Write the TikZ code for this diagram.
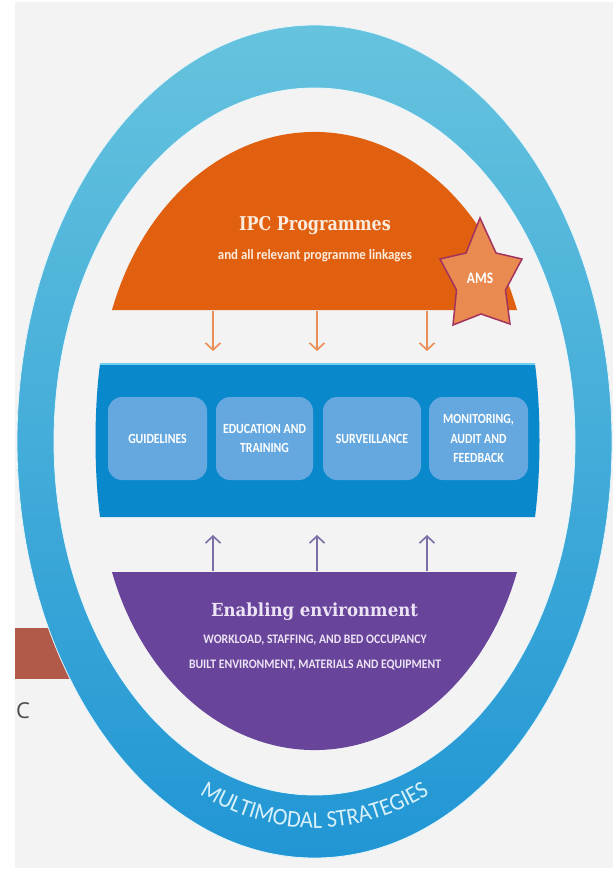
\documentclass[tikz,border=0pt]{standalone}
\usepackage{fontspec}
\usetikzlibrary{arrows.meta,decorations.text}

\newfontfamily\slabfont[FakeStretch=0.92]{DejaVu Serif}
\newfontfamily\slabnarrow[FakeStretch=0.84]{DejaVu Serif}
\newfontfamily\cndfont[FakeStretch=0.84]{Carlito}
\newfontfamily\subfont[FakeStretch=0.9]{Carlito}
\newfontfamily\ringfont[FakeStretch=0.93]{Carlito}
\newfontfamily\sidefont{Open Sans}

\definecolor{bgGrey}{HTML}{F3F3F3}
\definecolor{ringTop}{HTML}{66C3DE}
\definecolor{ringBot}{HTML}{2196D4}
\definecolor{ringEdge}{HTML}{E6F5FB}
\definecolor{domeOrange}{HTML}{E0600F}
\definecolor{starFill}{HTML}{E98A50}
\definecolor{starEdge}{HTML}{A2325E}
\definecolor{bandBlue}{HTML}{0A88CC}
\definecolor{bandEdge}{HTML}{6FD0F0}
\definecolor{boxBlue}{HTML}{64A8DF}
\definecolor{bowlPurple}{HTML}{68459B}
\definecolor{arrowOrange}{HTML}{EA8D58}
\definecolor{arrowPurple}{HTML}{7D6FA6}
\definecolor{barRed}{HTML}{B25A49}
\definecolor{capText}{HTML}{FBEBDD}
\definecolor{envText}{HTML}{ECE3F5}
\definecolor{ringText}{HTML}{D8F1FA}
\definecolor{sideText}{HTML}{4D4D4D}

\begin{document}
\begin{tikzpicture}[x=1pt,y=-1pt,
  boxstyle/.style={fill=boxBlue, rounded corners=14pt, minimum width=99pt,
    minimum height=83pt, inner sep=0pt, align=center, text=white,
    font=\cndfont\bfseries\fontsize{14}{19.5}\selectfont},
  downarrow/.style={draw=arrowOrange, line width=1.6pt,
    -{Straight Barb[length=7pt,width=15pt]}},
  uparrow/.style={draw=arrowPurple, line width=1.6pt,
    -{Straight Barb[length=7pt,width=15pt]}},
  substyle/.style={inner sep=0pt, font=\subfont\bfseries\fontsize{14.3}{16}\selectfont},
  envline/.style={inner sep=0pt, text=envText, font=\subfont\bfseries\fontsize{13}{15}\selectfont}]

\useasboundingbox (0,0) rectangle (613,870);
\fill[white] (0,0) rectangle (613,870);
\fill[bgGrey] (15,2) rectangle (613,868);

% bar and letter on the left margin, partly behind the ring
\fill[barRed] (15,628) rectangle (95,679);
\node[anchor=west, inner sep=0pt, text=sideText, font=\sidefont\fontsize{22}{24}\selectfont] (sideC) at (16,711) {C};

% outer ring
\shade[top color=ringTop, bottom color=ringBot] (314.5,441.5) ellipse[x radius=297.5, y radius=416.5];
\fill[bgGrey] (314.5,441.5) ellipse[x radius=260.5, y radius=353.5];
\draw[ringEdge, line width=0.8pt] (314.5,441.5) ellipse[x radius=297.5, y radius=416.5];
\draw[ringEdge, line width=0.8pt] (314.5,441.5) ellipse[x radius=260.5, y radius=353.5];

% ring label
\path[decorate, decoration={text along path, text align=center,
  text={|\ringfont\fontsize{24}{24}\selectfont\color{ringText}|MULTIMODAL STRATEGIES}}]
  (314.5,441.5) ++(125:280 and 386.5) arc[start angle=125, end angle=55, x radius=280, y radius=386.5];

% IPC dome
\fill[domeOrange] (112,310) arc[start angle=199.62, end angle=340.38, x radius=215, y radius=268] -- cycle;
\node[inner sep=0pt, text=capText, font=\slabnarrow\bfseries\fontsize{19}{22}\selectfont] (ipcTitle) at (315,226) {IPC Programmes};
\node[substyle, text=capText] (ipcSub) at (315,256) {and all relevant programme linkages};

% AMS star
\filldraw[fill=starFill, draw=starEdge, line width=1.5pt, line join=miter]
  (480,218) -- (496,253) -- (522,259) -- (505.5,290) -- (510,324) -- (481,314)
  -- (453,325) -- (456.5,290) -- (440,259) -- (466,253) -- cycle;
\node[inner sep=0pt, text=white, font=\cndfont\bfseries\fontsize{16}{18}\selectfont] (ams) at (480,278) {AMS};

% central band
\fill[bandBlue] (100,364) -- (535,364) .. controls (541,410) and (541,471) .. (535,517)
  -- (100,517) .. controls (94,471) and (94,410) .. (100,364) -- cycle;
\draw[bandEdge, line width=1.2pt] (100,364) -- (535,364);

\node[boxstyle] (guide) at (157.5,438.5) {GUIDELINES};
\node[boxstyle, minimum width=97pt] (educ) at (264.5,438.5) {EDUCATION AND\\TRAINING};
\node[boxstyle, minimum width=98pt] (surv) at (372,438.5) {SURVEILLANCE};
\node[boxstyle] (monit) at (478.5,438.5) {MONITORING,\\AUDIT AND\\FEEDBACK};

% enabling environment bowl
\fill[bowlPurple] (517,572) arc[start angle=19.62, end angle=160.38, x radius=215, y radius=268] -- cycle;
\node[inner sep=0pt, text=envText, font=\slabfont\bfseries\fontsize{18}{22}\selectfont] (envTitle) at (314.5,612) {Enabling environment};
\node[envline] (envLineA) at (315,640) {WORKLOAD, STAFFING, AND BED OCCUPANCY};
\node[envline] (envLineB) at (315,665) {BUILT ENVIRONMENT, MATERIALS AND EQUIPMENT};

% arrow anchors
\coordinate (domeA) at (213,311);
\coordinate (domeB) at (317,311);
\coordinate (domeC) at (427,311);
\coordinate (bandTopA) at (213,351);
\coordinate (bandTopB) at (317,351);
\coordinate (bandTopC) at (427,351);
\coordinate (bowlA) at (213,571);
\coordinate (bowlB) at (317,571);
\coordinate (bowlC) at (427,571);
\coordinate (bandBotA) at (213,535);
\coordinate (bandBotB) at (317,535);
\coordinate (bandBotC) at (427,535);

\draw[downarrow] (domeA) -- (bandTopA);
\draw[downarrow] (domeB) -- (bandTopB);
\draw[downarrow] (domeC) -- (bandTopC);
\draw[uparrow] (bowlA) -- (bandBotA);
\draw[uparrow] (bowlB) -- (bandBotB);
\draw[uparrow] (bowlC) -- (bandBotC);
\end{tikzpicture}
\end{document}
